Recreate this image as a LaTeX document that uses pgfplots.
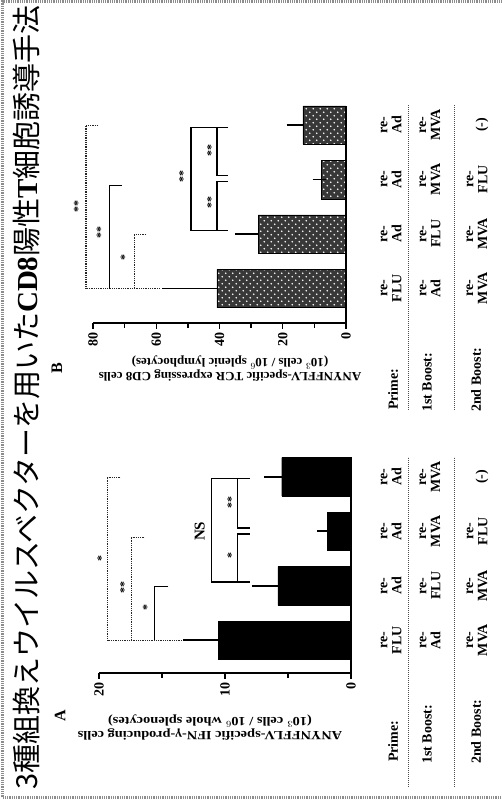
\documentclass[border=0pt]{standalone}
\usepackage{fontspec}
\setmainfont{Liberation Serif}
\newfontfamily\cjk{Noto Sans CJK JP}
\usepackage{pgfplots}
\pgfplotsset{compat=1.18}
\usetikzlibrary{patterns.meta}
\tikzdeclarepattern{
  name=dotgrid,
  type=uncolored,
  bottom left={(-.1pt,-.1pt)},
  top right={(7.1pt,7.1pt)},
  tile size={(7pt,7pt)},
  code={
    \tikzset{x=1pt,y=1pt}
    \fill (1.75,1.75) circle (0.95);
    \fill (5.25,5.25) circle (0.95);
  }
}
\newcommand{\tabfont}{\fontsize{14}{14}\selectfont\bfseries}
\newcommand{\starfont}{\fontsize{12}{12}\selectfont\bfseries}
\tikzset{
  dotb/.style={line width=1.1pt, black!85, dash pattern=on 1pt off 0.8pt},
  solb/.style={line width=1.1pt, black},
  star/.style={rotate=90, font=\starfont, inner sep=0pt},
}
\pgfplotsset{
  panel/.style={
    anchor=center, scale only axis, x dir=reverse,
    axis x line*=bottom, axis y line=none,
    tick align=outside, major tick length=6pt, minor tick length=5pt,
    xticklabel style={rotate=90, anchor=east, font=\fontsize{14}{14}\selectfont\bfseries},
    /pgf/number format/assume math mode=true,
    clip=false,
    axis line style={line width=1.3pt},
    every tick/.style={line width=1.3pt, black},
  },
  myerr/.style={
    error bars/.cd, x dir=plus, x explicit,
    error bar style={draw=black, fill=none, line width=1.6pt, solid},
    error mark options={draw=black, fill=none, line width=1.6pt, mark size=6.5pt},
  },
}
\begin{document}
\begin{tikzpicture}
\useasboundingbox (0pt,0pt) rectangle (501pt,800pt);
\fill[white] (0pt,0pt) rectangle (501pt,800pt);

% ---------------- Panel A ----------------
\begin{axis}[panel, at={(225pt,241.45pt)}, width=252pt, height=228.9pt,
  xmin=0, xmax=20, ymin=-0.6, ymax=3.6,
  xtick={0,10,20}, minor xtick={5,15}]
\addplot[xbar, bar width=38.5pt, fill=black, draw=black, myerr]
  coordinates {(10.5,0) +- (2.3,0) (5.8,1) +- (1.55,0) (1.9,2) +- (0.25,0) (5.5,3) +- (0.9,0)};
\draw[line width=1.3pt] (axis cs:0,-0.6) -- (axis cs:0,3.353);
% brackets
\draw[dotb] (axis cs:18.3,2.98) -- (axis cs:19.3,2.98) -- (axis cs:19.3,0) -- (axis cs:13.4,0);
\draw[dotb] (axis cs:16.4,1.88) -- (axis cs:17.4,1.88) -- (axis cs:17.4,0);
\draw[solb] (axis cs:14.5,0.98) -- (axis cs:15.6,0.98) -- (axis cs:15.6,0);
\node[star] at (axis cs:19.8,1.5) {*};
\node[star] at (axis cs:18.0,0.97) {**};
\node[star] at (axis cs:16.2,0.6) {*};
\draw[solb] (axis cs:8.0,2.97) -- (axis cs:11.1,2.97) -- (axis cs:11.1,1.07) -- (axis cs:8.0,1.07);
\draw[solb] (axis cs:9.0,2.97) -- (axis cs:9.0,2.06) -- (axis cs:8.0,2.06);
\draw[solb] (axis cs:9.0,1.07) -- (axis cs:9.0,1.95) -- (axis cs:8.0,1.95);
\node[rotate=90, font=\fontsize{15}{15}\selectfont\bfseries, inner sep=0pt] at (axis cs:12.0,2.0) {NS};
\node[star] at (axis cs:9.5,2.52) {**};
\node[star] at (axis cs:9.5,1.55) {*};
\end{axis}

% ---------------- Panel B ----------------
\begin{axis}[panel, at={(219.5pt,592.27pt)}, width=253pt, height=230.5pt,
  xmin=0, xmax=80, ymin=-0.63, ymax=3.6,
  xtick={0,20,40,60,80}, minor xtick={10,30,50,70}]
\addplot[xbar, bar width=38.5pt, fill=black!78, draw=black, line width=0.8pt,
  postaction={pattern=dotgrid, pattern color=white}, myerr]
  coordinates {(40.8,0) +- (15.2,0) (27.8,1) +- (5.2,0) (7.9,2) +- (0.6,0) (13.6,3) +- (3.1,0)};
\draw[line width=1.3pt] (axis cs:0,-0.63) -- (axis cs:0,3.353);
% brackets
\draw[dotb] (axis cs:78.4,3.0) -- (axis cs:82.2,3.0) -- (axis cs:82.2,0) -- (axis cs:58.8,0);
\draw[solb] (axis cs:70.8,1.9) -- (axis cs:74.9,1.9) -- (axis cs:74.9,0);
\draw[dotb] (axis cs:63.2,1.0) -- (axis cs:67.0,1.0) -- (axis cs:67.0,0);
\node[star] at (axis cs:84.8,1.5) {**};
\node[star] at (axis cs:77.6,1.03) {**};
\node[star] at (axis cs:70.0,0.58) {*};
\draw[solb] (axis cs:37.3,2.95) -- (axis cs:49.0,2.95) -- (axis cs:49.0,1.07) -- (axis cs:37.3,1.07);
\draw[solb] (axis cs:40.8,2.95) -- (axis cs:40.8,2.07) -- (axis cs:37.3,2.07);
\draw[solb] (axis cs:40.8,1.07) -- (axis cs:40.8,1.97) -- (axis cs:37.3,1.97);
\node[star] at (axis cs:51.5,2.05) {**};
\node[star] at (axis cs:42.6,2.53) {**};
\node[star] at (axis cs:42.6,1.58) {**};
\end{axis}

\begin{scope}[x=1pt,y=1pt]
\draw[black!45, line width=3pt, dash pattern=on 1pt off 0.8pt] (501,2.5) -- (2.5,2.5) -- (2.5,798.5) -- (501,798.5);
% title
\node[rotate=90, anchor=west, inner sep=0pt, font=\fontsize{29}{29}\selectfont] at (27,10)
  {{\cjk 3種組換えウイルスベクターを用いた}{\bfseries CD8}{\cjk 陽性}{\bfseries T}{\cjk 細胞誘導手法}};
% axis titles and panel letters
\node[rotate=180, xscale=1.15, align=center, font=\fontsize{12.5}{11.5}\selectfont\bfseries, inner sep=0pt] at (210,72.5)
  {ANYNFFLV-specific IFN-γ-producing cells\\(10$^3$ cells / 10$^6$ whole splenocytes)};
\node[rotate=180, xscale=1.04, align=center, font=\fontsize{12.5}{11.5}\selectfont\bfseries, inner sep=0pt] at (230,431)
  {ANYNFFLV-specific TCR expressing CD8 cells\\(10$^3$ cells / 10$^6$ splenic lymphocytes)};
\node[rotate=90, font=\fontsize{16}{16}\selectfont\bfseries] at (60,84) {A};
\node[rotate=90, font=\fontsize{16}{16}\selectfont\bfseries] at (57,432) {B};
% tables
\foreach \yo in {0,352}{
  \node[rotate=90, anchor=west, font=\tabfont, inner sep=0pt] at (393,38+\yo) {Prime:};
  \node[rotate=90, anchor=west, font=\tabfont, inner sep=0pt] at (427,36+\yo) {1st Boost:};
  \node[rotate=90, anchor=west, font=\tabfont, inner sep=0pt] at (476,36+\yo) {2nd Boost:};
  \node[rotate=90, align=center, font=\tabfont] at (391,159.7+\yo) {re-\\FLU};
  \node[rotate=90, align=center, font=\tabfont] at (391,214.2+\yo) {re-\\Ad};
  \node[rotate=90, align=center, font=\tabfont] at (391,268.7+\yo) {re-\\Ad};
  \node[rotate=90, align=center, font=\tabfont] at (391,323.2+\yo) {re-\\Ad};
  \node[rotate=90, align=center, font=\tabfont] at (430,159.7+\yo) {re-\\Ad};
  \node[rotate=90, align=center, font=\tabfont] at (430,214.2+\yo) {re-\\FLU};
  \node[rotate=90, align=center, font=\tabfont] at (430,268.7+\yo) {re-\\MVA};
  \node[rotate=90, align=center, font=\tabfont] at (430,323.2+\yo) {re-\\MVA};
  \node[rotate=90, align=center, font=\tabfont] at (477,159.7+\yo) {re-\\MVA};
  \node[rotate=90, align=center, font=\tabfont] at (477,214.2+\yo) {re-\\MVA};
  \node[rotate=90, align=center, font=\tabfont] at (477,268.7+\yo) {re-\\FLU};
  \node[rotate=90, align=center, font=\tabfont] at (482,323.2+\yo) {(-)};
}
\draw[black!70, line width=0.9pt, dash pattern=on 1.2pt off 0.8pt] (408,13) -- (408,343);
\draw[black!70, line width=0.9pt, dash pattern=on 1.2pt off 0.8pt] (454,13) -- (454,343);
\draw[black!70, line width=0.9pt, dash pattern=on 1.2pt off 0.8pt] (408,390) -- (408,695);
\draw[black!70, line width=0.9pt, dash pattern=on 1.2pt off 0.8pt] (454,390) -- (454,695);
\end{scope}
\end{tikzpicture}
\end{document}
